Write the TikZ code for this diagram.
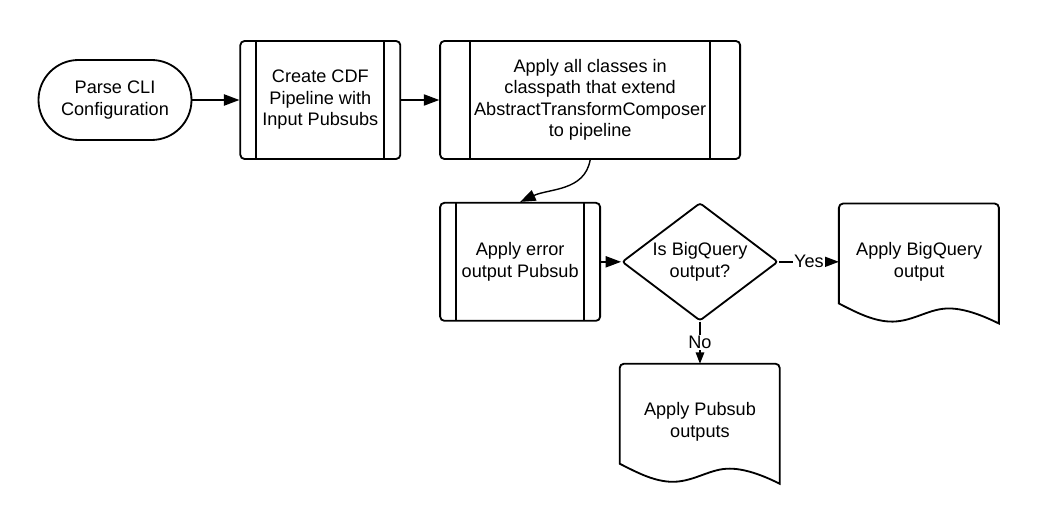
\documentclass[tikz,border=0pt]{standalone}
\usepackage{fontspec}
\setmainfont{Liberation Sans}
\usetikzlibrary{arrows.meta, positioning, shapes.geometric}
\tikzset{
>={Triangle[length=11pt, width=8pt]}, % filled arrow heads
every node/.style={font=\fontsize{12.9}{15.3}\selectfont, align=center}, % text as in the drawing
flow/.style={->, line width=1pt}, % the connectors
terminal/.style={draw, line width=1.3pt, rounded corners=1cm, minimum width=3.825cm, minimum height=2cm},
procbox/.style={draw, line width=1.3pt, rounded corners=3pt, minimum width=4cm, minimum height=2.95cm, inner sep=0pt,
  path picture={\draw[line width=1.3pt] ([xshift=#1]path picture bounding box.north west) -- ([xshift=#1]path picture bounding box.south west)
    ([xshift=-#1]path picture bounding box.north east) -- ([xshift=-#1]path picture bounding box.south east);}},
procbox/.default=0.4cm,
decision/.style={draw, diamond, line width=1.3pt, rounded corners=2pt, aspect=1.32, inner sep=0pt, minimum width=3.9cm, minimum height=2.95cm},
docbox/.style={minimum width=4cm, minimum height=2.9cm, inner sep=0pt}, % outline drawn by \docoutline
branch/.style={fill=white, inner sep=1pt}, % yes / no labels
}
% document outline with a wavy foot, round a docbox node
\newcommand{\docoutline}[1]{%
  \draw[line width=1.3pt, shift={(#1.north west)}] (0,-2.5) [rounded corners=3pt] -- (0,0) -- (4,0) [sharp corners] -- (4,-3)
    .. controls (3.6,-2.8) and (3.1,-2.6) .. (2.675,-2.625)
    .. controls (2.2,-2.65) and (1.8,-2.98) .. (1.25,-2.95)
    .. controls (0.8,-2.92) and (0.4,-2.7) .. (0,-2.5) -- cycle;}

\begin{document}
\begin{tikzpicture}
    \useasboundingbox (0,0) rectangle (26,-13);

    \node[terminal] (parse) at (2.875,-2.5) {Parse CLI\\Configuration};
    \node[procbox, right=1.175cm of parse] (create) {Create CDF\\Pipeline with\\Input Pubsubs};
    \node[procbox=0.75cm, minimum width=7.5cm, right=0.95cm of create] (compose) {Apply all classes in\\classpath that extend\\AbstractTransformComposer\\to pipeline};
    \node[procbox, below=1.05cm of compose.south west, anchor=north west] (error) {Apply error\\output Pubsub};
    \node[decision, right=0.5cm of error] (isbq) {Is BigQuery\\output?};
    \node[docbox, right=1.5cm of isbq] (bq) {Apply BigQuery\\output};
    \node[docbox, below=1.05cm of isbq] (pubsub) {Apply Pubsub\\outputs};
    \docoutline{bq}
    \docoutline{pubsub}

    \draw[flow] (parse) -- (create);
    \draw[flow] (create) -- (compose);
    \draw[flow] (compose.south) to[out=-100, in=25] (error.north);
    \draw[flow] (error) -- (isbq);
    \draw[flow] (isbq) -- node[branch]{Yes} (bq);
    \draw[flow, -{Triangle[length=8pt, width=6pt]}] (isbq) -- node[branch]{No} (pubsub);
\end{tikzpicture}
\end{document}
